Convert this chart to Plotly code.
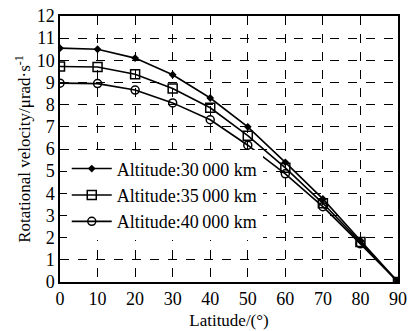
import plotly.graph_objects as go

latitude = [0, 10, 20, 30, 40, 50, 60, 70, 80, 90]
v_30000 = [10.55, 10.5, 10.1, 9.35, 8.3, 7.0, 5.4, 3.75, 1.87, 0]
v_35000 = [9.72, 9.7, 9.37, 8.73, 7.86, 6.6, 5.15, 3.55, 1.8, 0]
v_40000 = [8.97, 8.95, 8.66, 8.08, 7.32, 6.17, 4.88, 3.4, 1.72, 0]
names = ["Altitude:30\u2009000 km", "Altitude:35\u2009000 km", "Altitude:40\u2009000 km"]
x_ticks = [0, 10, 20, 30, 40, 50, 60, 70, 80, 90]
y_ticks = list(range(0, 13))

font = "Liberation Serif, Times New Roman, serif"
fig = go.Figure()
specs = [
    (v_30000, names[0], dict(symbol="diamond", size=6, color="black")),
    (v_35000, names[1], dict(symbol="square-open", size=9, color="black", line=dict(width=1.5, color="black"))),
    (v_40000, names[2], dict(symbol="circle-open", size=8, color="black", line=dict(width=1.5, color="black"))),
]
for ys, nm, mk in specs:
    fig.add_trace(go.Scatter(x=latitude, y=ys, name=nm, mode="lines+markers",
                             line=dict(color="black", width=1.6), marker=mk))

fig.update_layout(
    width=414, height=331,
    margin=dict(l=60, r=16, t=16, b=49),
    paper_bgcolor="white", plot_bgcolor="white",
    font=dict(family=font, size=18, color="black"),
    showlegend=True,
    legend=dict(x=0.02, y=0.495, xanchor="left", yanchor="top",
                bgcolor="white", font=dict(size=18, family=font),
                tracegroupgap=0, itemwidth=40),
)
fig.update_xaxes(range=[0, 90], tickvals=x_ticks, showgrid=True, gridcolor="black",
                 griddash="dash", gridwidth=1, showline=True, linecolor="black",
                 linewidth=1.5, mirror=True, ticks="", zeroline=False, automargin=False,
                 title_text="Latitude/(°)", title_standoff=6, title_font_size=17)
fig.update_yaxes(range=[0, 12], tickvals=y_ticks, showgrid=True, gridcolor="black",
                 griddash="dash", gridwidth=1, showline=True, linecolor="black",
                 linewidth=1.5, mirror=True, ticks="", zeroline=False, automargin=False,
                 title_text="Rotational velocity/μrad·s<sup>-1</sup>", title_standoff=2,
                 title_font_size=17)
fig.write_html("out.html")
